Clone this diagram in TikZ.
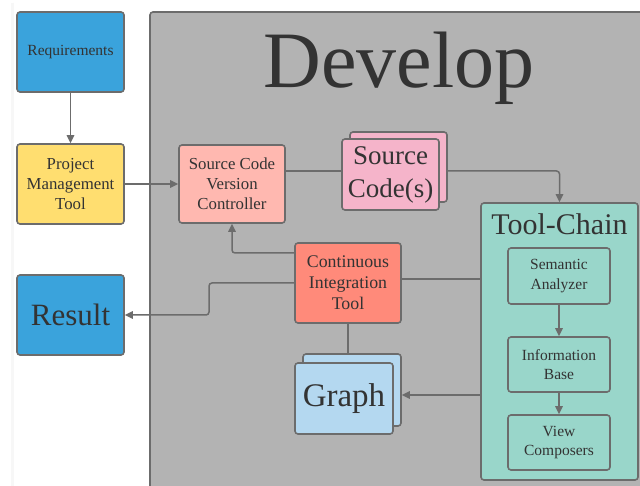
\documentclass[tikz,border=0pt]{standalone}
\usepackage{fontspec}
\setmainfont{Liberation Serif}
\usetikzlibrary{arrows.meta,calc}
\definecolor{edgec}{RGB}{108,108,108}
\definecolor{txtc}{RGB}{51,51,51}
\definecolor{blueb}{RGB}{58,163,220}
\definecolor{yellowb}{RGB}{255,222,112}
\definecolor{scvcc}{RGB}{255,184,176}
\definecolor{srcc}{RGB}{245,180,202}
\definecolor{citc}{RGB}{255,138,122}
\definecolor{tealc}{RGB}{153,214,202}
\definecolor{graphc}{RGB}{180,216,240}
\definecolor{devc}{RGB}{179,179,179}
\tikzset{
  box/.style={draw=edgec, line width=1.6pt, rounded corners=3pt, inner sep=0pt, align=center, text=txtc},
  small/.style={font=\fontsize{15.5}{19.5}\selectfont},
  mid/.style={font=\fontsize{16.8}{19.8}\selectfont},
  midb/.style={font=\fontsize{17.8}{21}\selectfont},
  conn/.style={draw=edgec, line width=1.5pt},
  arr/.style={conn, -{Triangle[length=8pt,width=7.5pt]}},
}
\begin{document}
\begin{tikzpicture}[x=1pt,y=-1pt]
\useasboundingbox (0,0) rectangle (640,486);
\clip (0,0) rectangle (640,486);
\fill[white] (0,0) rectangle (640,486);
\draw[gray!6, line width=3pt] (12,3) -- (12,486);
% Develop container
\node[box, fill=devc, minimum width=510pt, minimum height=488pt] (dev) at (405,256) {};
\node[text=txtc, font=\fontsize{80}{80}\selectfont, anchor=base] (devt) at (399,88) {Develop};
% left column
\node[box, fill=blueb, small, minimum width=107pt, minimum height=80pt] (req) at (70.5,52) {Requirements};
\node[box, fill=yellowb, mid, minimum width=107pt, minimum height=80pt] (pmt) at (70.5,184) {Project\\Management\\Tool};
\node[box, fill=blueb, font=\fontsize{31}{31}\selectfont, minimum width=107pt, minimum height=80pt] (res) at (70.5,315) {Result};
% inner nodes
\node[box, fill=scvcc, mid, minimum width=106pt, minimum height=78pt] (scvc) at (232,184) {Source Code\\Version\\Controller};
\node[box, fill=srcc, minimum width=97pt, minimum height=70pt] (srcb) at (398.5,167) {};
\node[box, fill=srcc, font=\fontsize{27}{33}\selectfont, minimum width=97pt, minimum height=71pt] (src) at (390.5,174.5) {Source\\Code(s)};
\node[box, fill=citc, midb, minimum width=106pt, minimum height=80pt] (cit) at (348,283) {Continuous\\Integration\\Tool};
\node[box, fill=graphc, minimum width=98pt, minimum height=72pt] (graphb) at (352,390) {};
\node[box, fill=graphc, font=\fontsize{33}{33}\selectfont, minimum width=98pt, minimum height=71pt] (graph) at (344,398.5) {Graph};
% tool chain
\node[box, fill=tealc, minimum width=157pt, minimum height=277pt] (tc) at (559.5,341.5) {};
\node[text=txtc, font=\fontsize{30}{30}\selectfont, anchor=base] (tct) at (559.5,235) {Tool-Chain};
\node[box, fill=tealc, small, minimum width=102pt, minimum height=56pt] (sa) at (559,276) {Semantic\\Analyzer};
\node[box, fill=tealc, small, minimum width=102pt, minimum height=55pt] (ib) at (559,364.5) {Information\\Base};
\node[box, fill=tealc, small, minimum width=102pt, minimum height=55pt] (vc) at (559,442.5) {View\\Composers};
% connectors
\draw[arr] (req.south) -- (pmt.north);
\draw[arr] (pmt.east) -- (scvc.west);
\draw[conn] (scvc.east |- 0,171) -- (src.west |- 0,171);
\draw[arr, rounded corners=3pt] (srcb.east |- 0,171) -| (tc.north);
\draw[arr, rounded corners=3pt] (cit.west |- 0,253) -| (scvc.south);
\draw[conn] (cit.east |- 0,279) -- (tc.west |- 0,279);
\coordinate (bend) at (209,283);
\draw[arr, rounded corners=3pt] (cit.west |- 0,283) -- (bend) |- (res.east);
\draw[conn] (cit.south) -- (cit.south |- graphb.north);
\draw[arr] (tc.west |- 0,395) -- (graphb.east |- 0,395);
\draw[arr] (sa.south) -- (ib.north);
\draw[arr] (ib.south) -- (vc.north);
\end{tikzpicture}
\end{document}
